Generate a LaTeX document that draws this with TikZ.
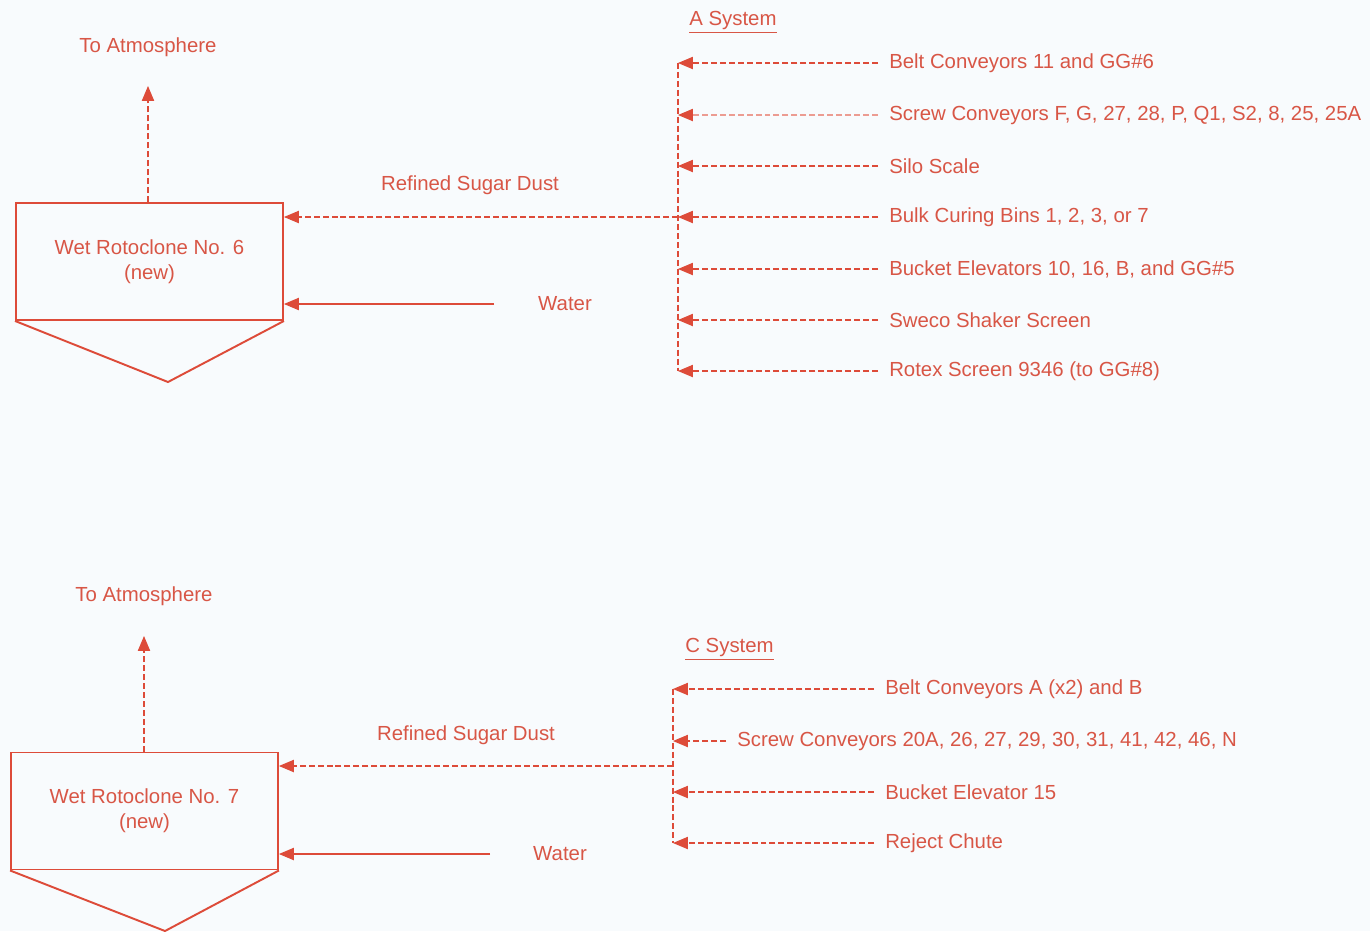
\documentclass[tikz,border=0pt]{standalone}
\usepackage{fontspec}
\setmainfont{Liberation Sans}
\usetikzlibrary{arrows.meta}

\definecolor{rotored}{RGB}{221,75,57}
\definecolor{labelred}{RGB}{216,86,70}
\definecolor{paper}{RGB}{248,251,253}

\begin{document}
\begin{tikzpicture}[x=0.02cm, y=-0.02cm, font=\fontsize{11.6}{14.2}\selectfont, text=labelred]
  \tikzstyle{unit}=[draw=rotored,line width=1.1pt,minimum width=5.34cm,minimum height=2.34cm,align=center,inner sep=0pt]
  \tikzstyle{src}=[anchor=west,inner xsep=6.2pt,inner ysep=0pt]
  \tikzstyle{duct}=[draw=rotored,line width=0.6pt,dash pattern=on 3.4pt off 1.7pt]
  \tikzstyle{feed}=[-{Triangle[length=8.5pt,width=7pt,color=rotored]}]
  \tikzstyle{pipe}=[draw=rotored,line width=0.6pt,-{Triangle[length=8.5pt,width=7pt]}]
  \fill[paper] (0,0) rectangle (1370,931);
  \useasboundingbox (0,0) rectangle (1370,931);

  % A system -> rotoclone 6
  \node[unit] (R6) at (149.5,261.5) {Wet Rotoclone No. 6\\(new)};
  \coordinate (R6tip) at (168,382);
  \draw[rotored,line width=1.1pt] (R6.south west) -- (R6tip) -- (R6.south east);
  \node (atm6) at (148,47) {To Atmosphere};
  \coordinate (atm6tip) at (148,86);
  \draw[duct,feed] (atm6tip |- R6.north) -- (atm6tip);
  \node (dust6) at (470,185) {Refined Sugar Dust};
  \node (water6) at (565,304) {Water};
  \coordinate (w6) at (494,304);
  \draw[pipe] (w6) -- (R6.east |- w6);

  \node[anchor=west,inner sep=0pt] (asys) at (689,22) {\underline{A System}};
  \node[src] (a1) at (878,63) {Belt Conveyors 11 and GG\#6};
  \node[src] (a2) at (878,115) {Screw Conveyors F, G, 27, 28, P, Q1, S2, 8, 25, 25A};
  \node[src] (a3) at (878,166) {Silo Scale};
  \node[src] (a4) at (878,217) {Bulk Curing Bins 1, 2, 3, or 7};
  \node[src] (a5) at (878,269) {Bucket Elevators 10, 16, B, and GG\#5};
  \node[src] (a6) at (878,320) {Sweco Shaker Screen};
  \node[src] (a7) at (878,371) {Rotex Screen 9346 (to GG\#8)};
  \coordinate (b1) at (678,63);
  \coordinate (b2) at (678,115);
  \coordinate (b3) at (678,166);
  \coordinate (b4) at (678,217);
  \coordinate (b5) at (678,269);
  \coordinate (b6) at (678,320);
  \coordinate (b7) at (678,371);
  \draw[duct] (b1) -- (b7);
  \draw[duct,feed] (a1.west) -- (b1);
  \draw[duct,feed,draw=rotored!55] (a2.west) -- (b2);
  \draw[duct,feed] (a3.west) -- (b3);
  \draw[duct,feed] (a4.west) -- (b4);
  \draw[duct,feed] (a5.west) -- (b5);
  \draw[duct,feed] (a6.west) -- (b6);
  \draw[duct,feed] (a7.west) -- (b7);
  \draw[duct,feed] (b4) -- (R6.east |- b4);

  % C system -> rotoclone 7
  \node[unit] (R7) at (144.5,811) {Wet Rotoclone No. 7\\(new)};
  \coordinate (R7tip) at (165,931);
  \draw[rotored,line width=1.1pt] (R7.south west) -- (R7tip) -- (R7.south east);
  \node (atm7) at (144,596) {To Atmosphere};
  \coordinate (atm7tip) at (144,636);
  \draw[duct,feed] (atm7tip |- R7.north) -- (atm7tip);
  \node (dust7) at (466,735) {Refined Sugar Dust};
  \node (water7) at (560,854) {Water};
  \coordinate (w7) at (490,854);
  \draw[pipe] (w7) -- (R7.east |- w7);

  \node[anchor=west,inner sep=0pt] (csys) at (685,649) {\underline{C System}};
  \node[src] (c1) at (874,689) {Belt Conveyors A (x2) and B};
  \node[src] (c2) at (726,741) {Screw Conveyors 20A, 26, 27, 29, 30, 31, 41, 42, 46, N};
  \node[src] (c3) at (874,792) {Bucket Elevator 15};
  \node[src] (c4) at (874,843) {Reject Chute};
  \coordinate (d1) at (673,689);
  \coordinate (d2) at (673,741);
  \coordinate (d0) at (673,766);
  \coordinate (d3) at (673,792);
  \coordinate (d4) at (673,843);
  \draw[duct] (d1) -- (d4);
  \draw[duct,feed] (c1.west) -- (d1);
  \draw[duct,feed] (c2.west) -- (d2);
  \draw[duct,feed] (c3.west) -- (d3);
  \draw[duct,feed] (c4.west) -- (d4);
  \draw[duct,feed] (d0) -- (R7.east |- d0);
\end{tikzpicture}
\end{document}
